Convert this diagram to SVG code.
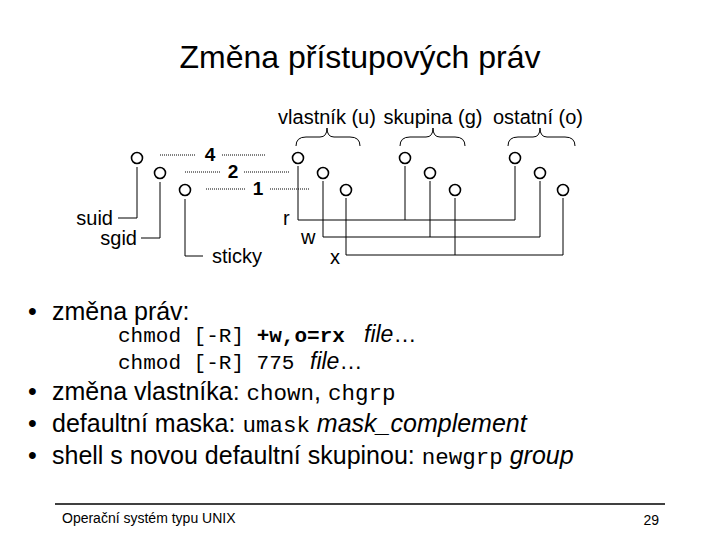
<svg xmlns="http://www.w3.org/2000/svg" width="720" height="540" viewBox="0 0 720 540">
<style>
text{font-family:"Liberation Sans",Arial,sans-serif;fill:#000}
.m{font-family:"Liberation Mono","Courier New",monospace;font-size:22.5px}
.b{font-weight:bold}
.i{font-style:italic}
.l{font-size:20px}
.t{font-size:25px}
.c{fill:#fff;stroke:#000;stroke-width:1.6}
.ln{fill:none;stroke:#000;stroke-width:1}
.dot{fill:none;stroke:#000;stroke-width:1;stroke-dasharray:1 1}
</style>
<rect width="720" height="540" fill="#fff"/>
<text x="360" y="68" font-size="32" text-anchor="middle">Změna přístupových práv</text>
<g id="braces" class="ln" stroke-width="2">
<path d="M296,146 Q296,137 306,137 L320,137 Q327,137 327,128 Q327,137 334,137 L350,137 Q360,137 360,146"/>
<path d="M400,146 Q400,137 410,137 L426,137 Q433,137 433,128 Q433,137 440,137 L455,137 Q465,137 465,146"/>
<path d="M508,146 Q508,137 518,137 L533,137 Q540,137 540,128 Q540,137 547,137 L565,137 Q575,137 575,146"/>
</g>
<g id="labels-top" class="l">
<text x="327" y="124" text-anchor="middle">vlastník (u)</text>
<text x="433" y="124" text-anchor="middle">skupina (g)</text>
<text x="538" y="124" text-anchor="middle">ostatní (o)</text>
</g>
<g id="connectors">
<path class="dot" d="M160,155H196M222,155H265M185,172H220M244,172H290M206,189H245M270,189H310"/>
<path class="ln" d="M137,167V218H118M160,182V238H141M185,199V256H203"/>
<path class="ln" d="M298,166V220H515V166M405,166V220"/>
<path class="ln" d="M323,181V237H540V181M430,181V237"/>
<path class="ln" d="M346,198V255H563V198M455,198V255"/>
</g>
<g id="digits" class="m b" style="font-size:19px">
<text x="210" y="161" text-anchor="middle">4</text>
<text x="233" y="178" text-anchor="middle">2</text>
<text x="258" y="195" text-anchor="middle">1</text>
</g>
<g id="bits">
<circle class="c" cx="137" cy="158" r="5.5"/><circle class="c" cx="160" cy="173" r="5.5"/><circle class="c" cx="185" cy="190" r="5.5"/>
<circle class="c" cx="298" cy="158" r="5.5"/><circle class="c" cx="323" cy="173" r="5.5"/><circle class="c" cx="346" cy="190" r="5.5"/>
<circle class="c" cx="405" cy="158" r="5.5"/><circle class="c" cx="430" cy="173" r="5.5"/><circle class="c" cx="455" cy="190" r="5.5"/>
<circle class="c" cx="515" cy="158" r="5.5"/><circle class="c" cx="540" cy="173" r="5.5"/><circle class="c" cx="563" cy="190" r="5.5"/>
</g>
<g id="bit-labels" class="l">
<text x="113" y="225" text-anchor="end">suid</text>
<text x="137" y="245" text-anchor="end">sgid</text>
<text x="212" y="263">sticky</text>
<text x="283" y="225">r</text>
<text x="301" y="244">w</text>
<text x="330" y="264">x</text>
</g>
<g id="bullets" class="t">
<text x="28" y="320">•</text><text x="52" y="320">změna práv:</text>
<text x="118" y="342" class="m" style="font-size:21px">chmod [-R] <tspan class="b">+w,o=rx</tspan></text><text x="364" y="342" class="i" style="font-size:23px">file<tspan font-style="normal">…</tspan></text>
<text x="118" y="369" class="m" style="font-size:21px">chmod [-R] 775</text><text x="310" y="369" class="i" style="font-size:23px">file<tspan font-style="normal">…</tspan></text>
<text x="28" y="400">•</text><text x="52" y="400">změna vlastníka: <tspan class="m">chown</tspan>, <tspan class="m">chgrp</tspan></text>
<text x="28" y="432">•</text><text x="52" y="432">defaultní maska: <tspan class="m">umask</tspan>  <tspan class="i">mask_complement</tspan></text>
<text x="28" y="464">•</text><text x="52" y="464">shell s novou defaultní skupinou: <tspan class="m">newgrp</tspan>  <tspan class="i">group</tspan></text>
</g>
<line x1="55" y1="504" x2="665" y2="504" stroke="#000" stroke-width="1.5"/>
<text x="62" y="523" font-size="14">Operační systém typu UNIX</text>
<text x="659" y="525" font-size="14" text-anchor="end">29</text>
</svg>
